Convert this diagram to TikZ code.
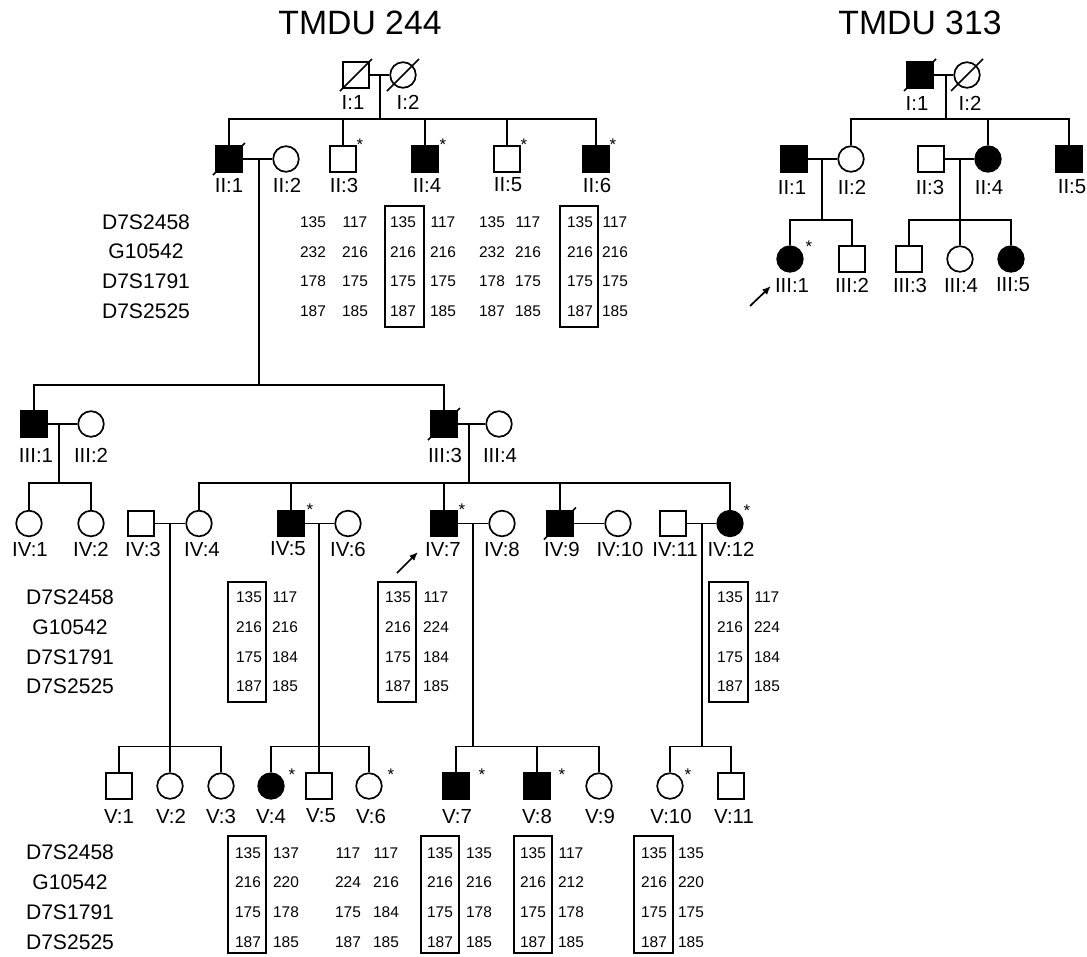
\documentclass[tikz,border=0pt]{standalone}
\usepackage{fontspec}
\setmainfont{Liberation Sans}
\usetikzlibrary{arrows.meta}
\tikzset{
  male/.style={draw,rectangle,line width=1.2pt,minimum size=0.64cm,inner sep=0pt,fill=white},
  female/.style={draw,circle,line width=1.2pt,minimum size=0.64cm,inner sep=0pt,fill=white},
  affected/.style={fill=black},
  kin/.style={line width=1.2pt},
  slash/.style={line width=1.2pt},
  idlabel/.style={inner sep=0pt,font=\fontsize{14.5}{16}\selectfont},
  marker/.style={inner sep=0pt,font=\fontsize{15}{17}\selectfont},
  allele/.style={inner sep=0pt,font=\fontsize{11}{12}\selectfont},
  starmark/.style={inner sep=0pt,font=\fontsize{12}{13}\selectfont},
  famtitle/.style={inner sep=0pt,font=\fontsize{24}{26}\selectfont},
  haplobox/.style={draw,line width=1.3pt},
  proband/.style={-{Latex[length=2.2mm,width=1.8mm]},line width=1.2pt}
}

\begin{document}
\begin{tikzpicture}[x=0.025cm,y=-0.025cm]
  \fill[white] (0,0) rectangle (1087,956);
  \useasboundingbox (0,0) rectangle (1087,956);
  \node[famtitle] (t244) at (360,23) {TMDU 244};
  \node[famtitle] (t313) at (920,23) {TMDU 313};

  % TMDU 244
  \node[male] (a-i1) at (356,75) {};
  \node[female] (a-i2) at (403,75) {};
  \node[male,affected] (a-ii1) at (229,159) {};
  \node[female] (a-ii2) at (286,159) {};
  \node[male] (a-ii3) at (343,159) {};
  \node[male,affected] (a-ii4) at (425,159) {};
  \node[male] (a-ii5) at (507,159) {};
  \node[male,affected] (a-ii6) at (596,159) {};
  \node[male,affected] (a-iii1) at (34,424) {};
  \node[female] (a-iii2) at (91,424) {};
  \node[male,affected] (a-iii3) at (444,424) {};
  \node[female] (a-iii4) at (499,424) {};
  \node[female] (a-iv1) at (29,523.5) {};
  \node[female] (a-iv2) at (91,523.5) {};
  \node[male] (a-iv3) at (141,523.5) {};
  \node[female] (a-iv4) at (199,523.5) {};
  \node[male,affected] (a-iv5) at (291,523.5) {};
  \node[female] (a-iv6) at (348,523.5) {};
  \node[male,affected] (a-iv7) at (444,523.5) {};
  \node[female] (a-iv8) at (502,523.5) {};
  \node[male,affected] (a-iv9) at (560,523.5) {};
  \node[female] (a-iv10) at (618,523.5) {};
  \node[male] (a-iv11) at (673,523.5) {};
  \node[female,affected] (a-iv12) at (730,523.5) {};
  \node[male] (a-v1) at (119,786) {};
  \node[female] (a-v2) at (170,786) {};
  \node[female] (a-v3) at (221,786) {};
  \node[female,affected] (a-v4) at (271,786) {};
  \node[male] (a-v5) at (319,786) {};
  \node[female] (a-v6) at (369,786) {};
  \node[male,affected] (a-v7) at (456,786) {};
  \node[male,affected] (a-v8) at (537,786) {};
  \node[female] (a-v9) at (599,786) {};
  \node[female] (a-v10) at (670,786) {};
  \node[male] (a-v11) at (731,786) {};

  \foreach \c in {a-i1,a-i2,a-ii1,a-iii3,a-iv9}
    \draw[slash] ([shift={(-16,16)}]\c.center) -- ([shift={(16,-16)}]\c.center);

  \coordinate (a-m1) at (380,75);   \coordinate (a-s2) at (380,119);
  \coordinate (a-m2) at (259,159);  \coordinate (a-s3) at (259,385);
  \coordinate (a-m3) at (59,424);   \coordinate (a-s4) at (59,483);
  \coordinate (a-m4) at (469,424);  \coordinate (a-s5) at (469,483);
  \coordinate (a-m5) at (170,523.5); \coordinate (a-s6) at (170,746.5);
  \coordinate (a-m6) at (319,523.5); \coordinate (a-s7) at (319,746.5);
  \coordinate (a-m7) at (473,523.5); \coordinate (a-s8) at (473,746.5);
  \coordinate (a-m8) at (702,523.5); \coordinate (a-s9) at (702,746.5);
  \draw[kin] (a-i1) -- (a-i2);
  \draw[kin] (a-ii1) -- (a-ii2);
  \draw[kin] (a-iii1) -- (a-iii2);
  \draw[kin] (a-iii3) -- (a-iii4);
  \draw[kin] (a-iv3) -- (a-iv4);
  \draw[kin] (a-iv5) -- (a-iv6);
  \draw[kin] (a-iv7) -- (a-iv8);
  \draw[kin] (a-iv9) -- (a-iv10);
  \draw[kin] (a-iv11) -- (a-iv12);
  \foreach \m/\s in {a-m1/a-s2,a-m2/a-s3,a-m3/a-s4,a-m4/a-s5,a-m5/a-s6,a-m6/a-s7,a-m7/a-s8,a-m8/a-s9}
    \draw[kin] (\m) -- (\s);
  \foreach \c in {a-ii1,a-ii3,a-ii4,a-ii5,a-ii6} \draw[kin] (\c.north) |- (a-s2);
  \foreach \c in {a-iii1,a-iii3} \draw[kin] (\c.north) |- (a-s3);
  \foreach \c in {a-iv1,a-iv2} \draw[kin] (\c.north) |- (a-s4);
  \foreach \c in {a-iv4,a-iv5,a-iv7,a-iv9,a-iv12} \draw[kin] (\c.north) |- (a-s5);
  \foreach \c in {a-v1,a-v2,a-v3} \draw[kin] (\c.north) |- (a-s6);
  \foreach \c in {a-v4,a-v5,a-v6} \draw[kin] (\c.north) |- (a-s7);
  \foreach \c in {a-v7,a-v8,a-v9} \draw[kin] (\c.north) |- (a-s8);
  \foreach \c in {a-v10,a-v11} \draw[kin] (\c.north) |- (a-s9);

  \foreach \x/\t [count=\i] in {353/I:1,408/I:2}
    \node[idlabel] (a-li\i) at (\x,102) {\t};
  \foreach \x/\t [count=\i] in {229/II:1,287/II:2,344/II:3,427/II:4,508/II:5,597/II:6}
    \node[idlabel] (a-lii\i) at (\x,185) {\t};
  \foreach \x/\t [count=\i] in {36/III:1,91/III:2,445/III:3,500/III:4}
    \node[idlabel] (a-liii\i) at (\x,455) {\t};
  \foreach \x/\t [count=\i] in {30/IV:1,91/IV:2,143/IV:3,202/IV:4,288/IV:5,348/IV:6,443/IV:7,502/IV:8,562/IV:9,620/IV:10,675/IV:11,731/IV:12}
    \node[idlabel] (a-liv\i) at (\x,549) {\t};
  \foreach \x/\t [count=\i] in {119/V:1,171/V:2,221/V:3,271/V:4,321/V:5,371/V:6,457/V:7,537/V:8,600/V:9,671/V:10,734/V:11}
    \node[idlabel] (a-lv\i) at (\x,816) {\t};
  \foreach \x/\y [count=\i] in {360/145,443/145,524/145,613/145,310/510,462/510,747/511,292/775,391/775,482/775,562/775,688/775}
    \node[starmark] (a-st\i) at (\x,\y) {*};

  % haplotypes
  \foreach \m [count=\r] in {D7S2458,G10542,D7S1791,D7S2525} {
    \node[marker] (mk-ii-\r) at (146,192.3+\r*29.7) {\m};
    \node[marker] (mk-iv-\r) at (70,567.8+\r*29.7) {\m};
    \node[marker] (mk-v-\r) at (70,823+\r*29.7) {\m};
  }
  \foreach \xl/\xr/\vals in {313/355/{135/117,232/216,178/175,187/185},
      403/443/{135/117,216/216,175/175,187/185},
      492/528/{135/117,232/216,178/175,187/185},
      580/615/{135/117,216/216,175/175,187/185}}
    \foreach \a/\b [count=\r] in \vals {
      \node[allele] (ii-\xl-\r) at (\xl,192.3+\r*29.7) {\a};
      \node[allele] (ii-\xr-\r) at (\xr,192.3+\r*29.7) {\b};
    }
  \foreach \xl/\xr/\vals in {249/285/{135/117,216/216,175/184,187/185},
      398/436/{135/117,216/224,175/184,187/185},
      730/767/{135/117,216/224,175/184,187/185}}
    \foreach \a/\b [count=\r] in \vals {
      \node[allele] (iv-\xl-\r) at (\xl,567.8+\r*29.7) {\a};
      \node[allele] (iv-\xr-\r) at (\xr,567.8+\r*29.7) {\b};
    }
  \foreach \xl/\xr/\vals in {248/286/{135/137,216/220,175/178,187/185},
      348/386/{117/117,224/216,175/184,187/185},
      440/479/{135/135,216/216,175/178,187/185},
      533/571/{135/117,216/212,175/178,187/185},
      654/691/{135/135,216/220,175/175,187/185}}
    \foreach \a/\b [count=\r] in \vals {
      \node[allele] (v-\xl-\r) at (\xl,823+\r*29.7) {\a};
      \node[allele] (v-\xr-\r) at (\xr,823+\r*29.7) {\b};
    }
  \draw[haplobox] (385,206) rectangle (424,327);
  \draw[haplobox] (560,206) rectangle (598,327);
  \draw[haplobox] (228,582) rectangle (266,702);
  \draw[haplobox] (378,582) rectangle (416,702);
  \draw[haplobox] (709,582) rectangle (748,702);
  \draw[haplobox] (228,836) rectangle (266,953);
  \draw[haplobox] (421,836) rectangle (459,953);
  \draw[haplobox] (514,836) rectangle (552,953);
  \draw[haplobox] (634,836) rectangle (673,953);

  \coordinate (a-pt) at (397,573); \coordinate (a-ph) at (418,552);
  \draw[proband] (a-pt) -- (a-ph);

  % TMDU 313
  \node[male,affected] (b-i1) at (920,75) {};
  \node[female] (b-i2) at (967,75) {};
  \node[male,affected] (b-ii1) at (794,159) {};
  \node[female] (b-ii2) at (851,159) {};
  \node[male] (b-ii3) at (931,159) {};
  \node[female,affected] (b-ii4) at (988,159) {};
  \node[male,affected] (b-ii5) at (1069,159) {};
  \node[female,affected] (b-iii1) at (790,259) {};
  \node[male] (b-iii2) at (852,259) {};
  \node[male] (b-iii3) at (909,259) {};
  \node[female] (b-iii4) at (960,259) {};
  \node[female,affected] (b-iii5) at (1011,259) {};
  \foreach \c in {b-i1,b-i2}
    \draw[slash] ([shift={(-16,16)}]\c.center) -- ([shift={(16,-16)}]\c.center);

  \coordinate (b-m1) at (946,75);  \coordinate (b-s2) at (946,119);
  \coordinate (b-m2) at (822,159); \coordinate (b-s3) at (822,220);
  \coordinate (b-m3) at (960,159); \coordinate (b-s4) at (960,220);
  \draw[kin] (b-i1) -- (b-i2);
  \draw[kin] (b-ii1) -- (b-ii2);
  \draw[kin] (b-ii3) -- (b-ii4);
  \foreach \m/\s in {b-m1/b-s2,b-m2/b-s3,b-m3/b-s4} \draw[kin] (\m) -- (\s);
  \foreach \c in {b-ii2,b-ii4,b-ii5} \draw[kin] (\c.north) |- (b-s2);
  \foreach \c in {b-iii1,b-iii2} \draw[kin] (\c.north) |- (b-s3);
  \foreach \c in {b-iii3,b-iii4,b-iii5} \draw[kin] (\c.north) |- (b-s4);

  \foreach \x/\t [count=\i] in {917/I:1,970/I:2}
    \node[idlabel] (b-li\i) at (\x,103) {\t};
  \foreach \x/\t [count=\i] in {792/II:1,852/II:2,930/II:3,989/II:4,1072/II:5}
    \node[idlabel] (b-lii\i) at (\x,187) {\t};
  \foreach \x/\t [count=\i] in {792/III:1,852/III:2,910/III:3,961/III:4,1013/III:5}
    \node[idlabel] (b-liii\i) at (\x,285) {\t};
  \node[starmark] (b-st1) at (809,247) {*};
  \coordinate (b-pt) at (750,306); \coordinate (b-ph) at (771,286);
  \draw[proband] (b-pt) -- (b-ph);
\end{tikzpicture}
\end{document}
